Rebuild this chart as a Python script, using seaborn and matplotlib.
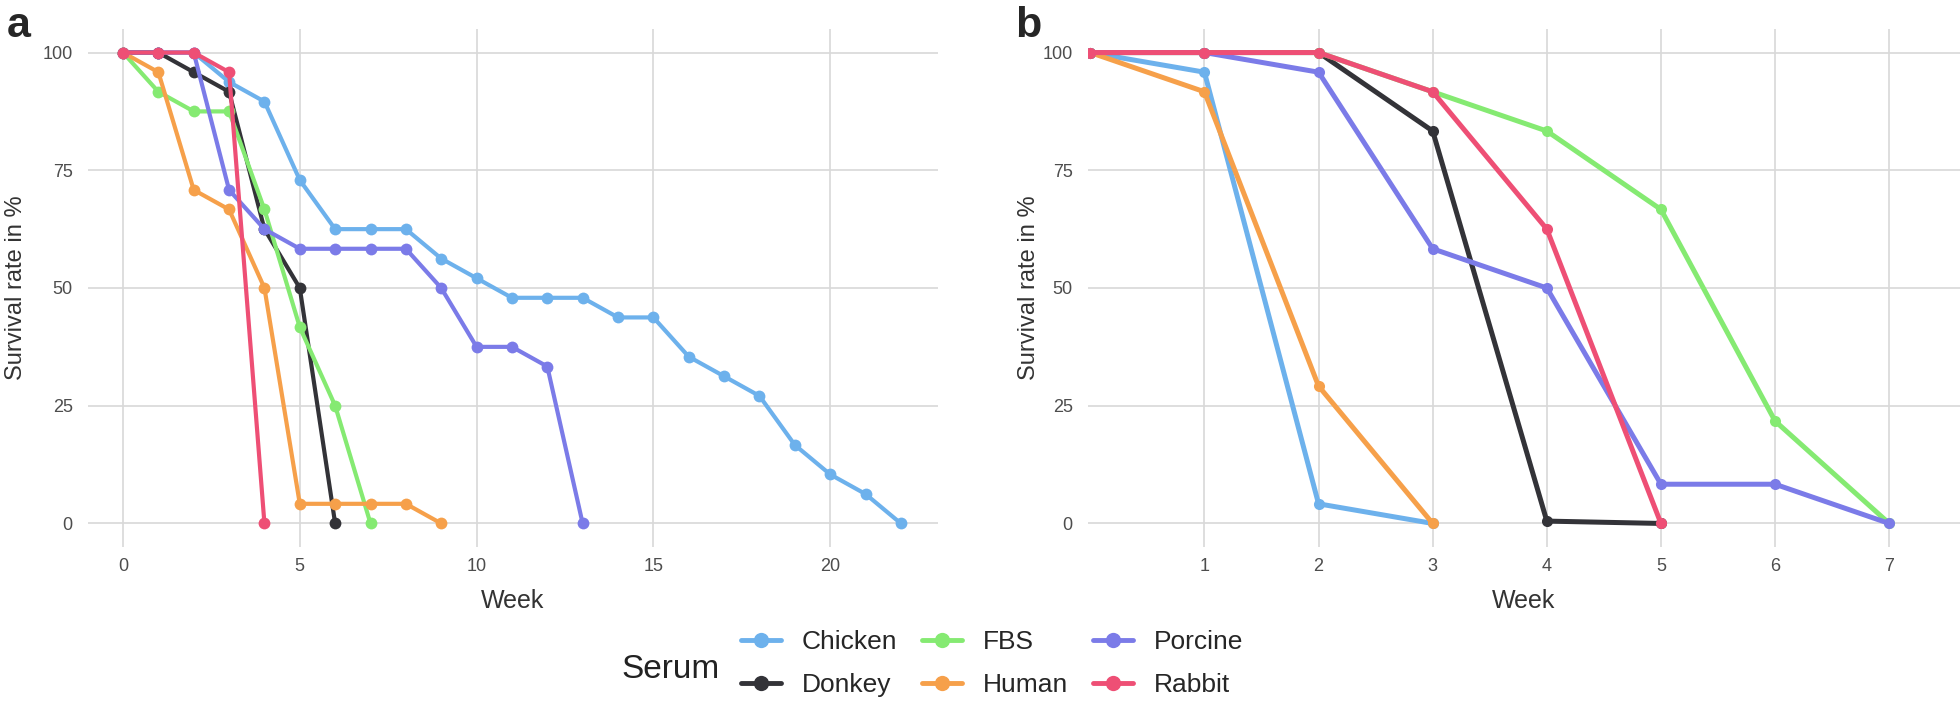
import numpy as np
import pandas as pd
import matplotlib
matplotlib.use("Agg")
import matplotlib.pyplot as plt
import seaborn as sns

# ---- data (survival rate in %, one value per week from week 0) ----
serums = ["Chicken", "Donkey", "FBS", "Human", "Porcine", "Rabbit"]
colors = ["#6DB1EC", "#333338", "#85EA72", "#F6A04A", "#7B7BE8", "#EE4F75"]

# panel a
a_chicken = [100, 100, 100, 93.75, 89.58, 72.92, 62.5, 62.5, 62.5, 56.25, 52.08, 47.92,
             47.92, 47.92, 43.75, 43.75, 35.42, 31.25, 27.08, 16.67, 10.42, 6.25, 0]
a_donkey = [100, 100, 95.83, 91.67, 62.5, 50, 0]
a_fbs = [100, 91.67, 87.5, 87.5, 66.67, 41.67, 25, 0]
a_human = [100, 95.83, 70.83, 66.67, 50, 4.17, 4.17, 4.17, 4.17, 0]
a_porcine = [100, 100, 100, 70.83, 62.5, 58.33, 58.33, 58.33, 58.33, 50, 37.5, 37.5, 33.33, 0]
a_rabbit = [100, 100, 100, 95.83, 0]

# panel b
b_chicken = [100, 95.83, 4.17, 0]
b_donkey = [100, 100, 100, 83.33, 0.5, 0]
b_fbs = [100, 100, 100, 91.67, 83.33, 66.67, 21.74, 0]
b_human = [100, 91.67, 29.17, 0]
b_porcine = [100, 100, 95.83, 58.33, 50, 8.33, 8.33, 0]
b_rabbit = [100, 100, 100, 91.67, 62.5, 0]

y_ticks = [0, 25, 50, 75, 100]
a_x_ticks = [0, 5, 10, 15, 20]
b_x_ticks = [1, 2, 3, 4, 5, 6, 7]


def to_long(series):
    rows = []
    for name, vals in zip(serums, series):
        for week, v in enumerate(vals):
            rows.append({"Serum": name, "Week": week, "Survival": v})
    return pd.DataFrame(rows)


df_a = to_long([a_chicken, a_donkey, a_fbs, a_human, a_porcine, a_rabbit])
df_b = to_long([b_chicken, b_donkey, b_fbs, b_human, b_porcine, b_rabbit])

sns.set_style("whitegrid")
plt.rcParams["font.family"] = ["Liberation Sans", "DejaVu Sans"]

W, H = 1960, 708
fig = plt.figure(figsize=(W / 100, H / 100), dpi=100)
ax_a = fig.add_axes([88 / W, 1 - 547 / H, 850 / W, 518 / H])
ax_b = fig.add_axes([1088 / W, 1 - 547 / H, 872 / W, 518 / H])

pal = dict(zip(serums, colors))
sns.lineplot(data=df_a, x="Week", y="Survival", hue="Serum", hue_order=serums, palette=pal,
             marker="o", markersize=8.5, markeredgewidth=0, linewidth=3,
             estimator=None, sort=False, ax=ax_a)
sns.lineplot(data=df_b, x="Week", y="Survival", hue="Serum", hue_order=serums, palette=pal,
             marker="o", markersize=8, markeredgewidth=0, linewidth=3.6,
             estimator=None, sort=False, ax=ax_b)

handles, labels = ax_a.get_legend_handles_labels()
ax_a.get_legend().remove()
ax_b.get_legend().remove()
for h in handles:
    h.set_markersize(11)
    h.set_linewidth(3.5)

for ax, xt, xlim, lab_x in [(ax_a, a_x_ticks, (-0.99, 23.05), -0.072),
                            (ax_b, b_x_ticks, (-0.02, 7.62), -0.055)]:
    ax.set_xlim(*xlim)
    ax.set_ylim(-5, 105)
    ax.set_xticks(xt)
    ax.set_yticks(y_ticks)
    ax.grid(True, color="#D8D8D8", linewidth=1.2)
    for s in ax.spines.values():
        s.set_visible(False)
    ax.tick_params(axis="both", length=0, labelsize=13, labelcolor="#4D4D4D")
    ax.tick_params(axis="y", pad=11)
    ax.tick_params(axis="x", pad=8)
    ax.set_xlabel("Week", fontsize=18, color="#333333", labelpad=10)
    ax.set_ylabel("Survival rate in %", fontsize=17, color="#333333")
    ax.yaxis.set_label_coords(lab_x, 0.5)

fig.text(7 / W, 1 - 37 / H, "a", fontsize=31, fontweight="bold", ha="left", va="baseline")
fig.text(1015 / W, 1 - 37 / H, "b", fontsize=31, fontweight="bold", ha="left", va="baseline")

fig.text(621 / W, 1 - 669 / H, "Serum", fontsize=24, ha="left", va="center", color="#222222")
fig.legend(handles, labels, loc="upper left", bbox_to_anchor=(741 / W, 1 - 630 / H),
           ncol=3, frameon=False, fontsize=19, handlelength=1.5, handletextpad=0.8,
           columnspacing=0.95, labelspacing=0.72, borderpad=0, borderaxespad=0)

fig.savefig("out.png", dpi=100)
